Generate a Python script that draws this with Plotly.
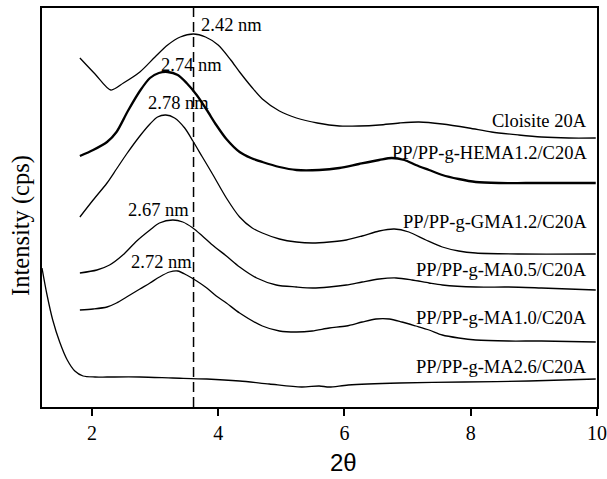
import plotly.graph_objects as go

# ---- data (2-theta in degrees, intensity in arbitrary offset units) ----
cloisite_x = [1.81, 2.05, 2.30, 2.50, 2.76, 3.00, 3.20, 3.40, 3.61, 3.80, 4.00, 4.20, 4.34, 4.53, 4.70,
              4.97, 5.24, 5.57, 5.92, 6.23, 6.55, 6.87, 7.18, 7.55, 7.97, 8.33, 8.76, 9.12, 9.55, 9.98]
cloisite_y = [349, 333, 317, 324, 335, 350, 362, 370, 373, 370, 362, 347, 335, 320, 308,
              296, 289, 284, 281, 281, 282, 284, 285, 283, 279, 275, 272, 270, 269, 269]

hema_x = [1.81, 2.02, 2.24, 2.39, 2.57, 2.76, 2.92, 3.06, 3.20, 3.36, 3.50, 3.66, 3.82, 3.97, 4.13,
          4.34, 4.52, 4.70, 4.97, 5.24, 5.60, 5.92, 6.23, 6.55, 6.75, 6.95, 7.13, 7.34, 7.55, 7.81,
          8.08, 8.45, 8.87, 9.39, 9.98]
hema_y = [251, 257, 265, 275, 296, 316, 329, 334, 335, 332, 324, 312, 297, 282, 268,
          255, 249, 245, 240, 237, 237, 239, 243, 247, 249, 247, 242, 237, 232, 228,
          225, 224, 224, 224, 224]

gma_x = [1.81, 2.02, 2.24, 2.39, 2.55, 2.76, 2.92, 3.04, 3.17, 3.31, 3.47, 3.60, 3.75, 3.91, 4.13,
         4.34, 4.54, 4.70, 4.97, 5.24, 5.49, 5.76, 6.03, 6.28, 6.55, 6.79, 7.02, 7.29, 7.55, 7.81,
         8.08, 8.76, 9.98]
gma_y = [190, 207, 224, 238, 253, 271, 283, 290, 292, 289, 279, 266, 250, 233, 209,
         190, 179, 174, 168, 165, 164, 165, 167, 171, 176, 178, 175, 167, 160, 156,
         154, 153, 153]

ma05_x = [1.81, 2.08, 2.28, 2.49, 2.71, 2.92, 3.07, 3.28, 3.44, 3.60, 3.75, 3.91, 4.13, 4.34, 4.61,
          4.92, 5.24, 5.50, 5.76, 6.03, 6.28, 6.55, 6.82, 7.07, 7.34, 7.55, 8.08, 8.60, 9.12, 9.98]
ma05_y = [134, 137, 142, 152, 166, 177, 184, 187, 185, 179, 171, 162, 151, 140, 129,
          122, 120, 119, 120, 122, 125, 128, 129, 127, 124, 122, 120, 120, 119, 117]

ma10_x = [1.81, 2.02, 2.24, 2.39, 2.55, 2.76, 2.92, 3.07, 3.23, 3.36, 3.50, 3.66, 3.82, 3.97, 4.13,
          4.34, 4.70, 4.97, 5.24, 5.49, 5.76, 6.03, 6.28, 6.50, 6.71, 6.91, 7.13, 7.34, 7.55, 7.81,
          8.08, 8.60, 9.12, 9.98]
ma10_y = [97, 98, 100, 104, 110, 118, 124, 130, 135, 136, 132, 126, 119, 111, 104,
          94, 81, 76, 75, 76, 79, 81, 85, 88, 88, 85, 81, 77, 72, 69,
          67, 66, 66, 65]

ma26_x = [1.21, 1.29, 1.38, 1.49, 1.61, 1.73, 1.86, 2.05, 2.24, 2.76, 3.28, 3.82, 4.34, 4.81,
          5.32, 5.60, 5.76, 6.06, 6.87, 7.89, 8.92, 9.98]
ma26_y = [139, 112, 87, 65, 47, 36, 31, 30, 30, 30, 29, 28, 26, 23,
          20, 21, 20, 22, 24, 25, 26, 28]

series_names = ["Cloisite 20A", "PP/PP-g-HEMA1.2/C20A", "PP/PP-g-GMA1.2/C20A",
                "PP/PP-g-MA0.5/C20A", "PP/PP-g-MA1.0/C20A", "PP/PP-g-MA2.6/C20A"]
label_y = [286, 254, 185, 137, 89, 40]
label_x = 9.87

peak_labels = ["2.42 nm", "2.74 nm", "2.78 nm", "2.67 nm", "2.72 nm"]
peak_label_x = [3.69, 3.58, 3.37, 3.06, 3.11]
peak_label_y = [382, 342, 304, 197, 145]

ref_2theta = 3.61
x_ticks = [2, 4, 6, 8, 10]

series = [(cloisite_x, cloisite_y, 1.3), (hema_x, hema_y, 2.3), (gma_x, gma_y, 1.3),
          (ma05_x, ma05_y, 1.3), (ma10_x, ma10_y, 1.3), (ma26_x, ma26_y, 1.3)]

fig = go.Figure()
for (xs, ys, w), name in zip(series, series_names):
    fig.add_trace(go.Scatter(x=xs, y=ys, mode="lines", name=name,
                             line=dict(color="black", width=w, shape="spline", smoothing=0.8),
                             showlegend=False, hoverinfo="skip"))

fig.add_shape(type="line", xref="x", yref="paper", x0=ref_2theta, x1=ref_2theta, y0=0, y1=1,
              line=dict(color="black", width=1.5, dash="10px,5px"))

serif = "Liberation Serif, Times New Roman, serif"
for name, ly in zip(series_names, label_y):
    fig.add_annotation(x=label_x, y=ly, text=name, showarrow=False, xanchor="right", yanchor="middle",
                       font=dict(family=serif, size=18.5, color="black"))
for t, px, py in zip(peak_labels, peak_label_x, peak_label_y):
    fig.add_annotation(x=px, y=py, text=t, showarrow=False,
                       xanchor="left" if t == "2.42 nm" else "center", yanchor="middle",
                       font=dict(family=serif, size=18.5, color="black"))

# axis titles (placed as in the reference, off-centre)
fig.add_annotation(xref="paper", yref="paper", x=0, y=0.455, xshift=-20.5, text="Intensity (cps)",
                   textangle=-90, showarrow=False, xanchor="center", yanchor="middle",
                   font=dict(family=serif, size=24.5, color="black"))
fig.add_annotation(xref="paper", yref="paper", x=0.544, y=-0.140, text="2θ",
                   showarrow=False, xanchor="center", yanchor="middle",
                   font=dict(family="Liberation Sans, Arial, sans-serif", size=24, color="black"))

fig.update_layout(
    width=607, height=479,
    margin=dict(l=42, r=10, t=8, b=72),
    plot_bgcolor="white", paper_bgcolor="white",
    xaxis=dict(range=[1.21, 10], tickvals=x_ticks, ticktext=[str(v) for v in x_ticks],
               ticks="outside", ticklen=7, tickwidth=1.5, tickcolor="black",
               showline=True, linewidth=2, linecolor="black", mirror=True,
               showgrid=False, zeroline=False, automargin=False,
               tickfont=dict(family=serif, size=20, color="black")),
    yaxis=dict(range=[0, 399], showticklabels=False, ticks="",
               showline=True, linewidth=2, linecolor="black", mirror=True,
               showgrid=False, zeroline=False, automargin=False),
)

# remove the page's default 8px body margin so the figure fills the window exactly
fig.write_html("out.html", config={"displayModeBar": False},
               post_script="document.body.style.margin='0';document.body.style.overflow='hidden';")
